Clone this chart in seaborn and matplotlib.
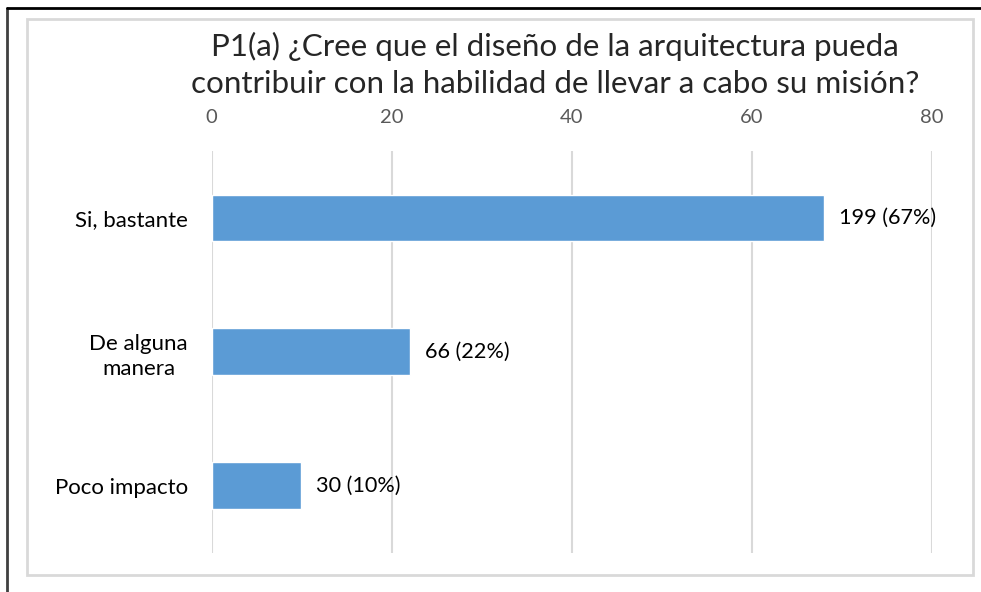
import pandas as pd
import seaborn as sns
import matplotlib.pyplot as plt
from matplotlib.lines import Line2D
from matplotlib.patches import Rectangle

categories = ['Si, bastante', 'De alguna\nmanera', 'Poco impacto']
values = [68.0, 22.0, 9.9]
labels = ['199 (67%)', '66 (22%)', '30 (10%)']
ticks = [0, 20, 40, 60, 80]

df = pd.DataFrame({'cat': categories, 'val': values})

sns.set_theme(style='white')
plt.rcParams['font.family'] = ['Lato', 'DejaVu Sans']

fig = plt.figure(figsize=(9.81, 5.92), dpi=100)
ax = fig.add_axes([211.5 / 981, 1 - 552.7 / 592, 720.2 / 981, 401.7 / 592])

sns.barplot(data=df, x='val', y='cat', orient='h', color='#5B9BD5', width=0.35,
            saturation=1, ax=ax)

ax.set_xlim(0, 80)
ax.set_xticks(ticks)
ax.xaxis.tick_top()
ax.tick_params(axis='x', length=0, pad=18, labelsize=14.5, labelcolor='#595959')
ax.tick_params(axis='y', length=0, pad=17, labelsize=16, labelcolor='black')
for t in ax.get_yticklabels():
    t.set_multialignment('center')
    t.set_linespacing(1.3)
ax.grid(axis='x', color='#D9D9D9', linewidth=1.5)
ax.set_axisbelow(True)
for s in ax.spines.values():
    s.set_visible(False)
ax.set_xlabel('')
ax.set_ylabel('')

ax.bar_label(ax.containers[0], labels=labels, padding=11, fontsize=15.6, color='black')

fig.text(555 / 981, 1 - 65 / 592,
         'P1(a) ¿Cree que el diseño de la arquitectura pueda\ncontribuir con la habilidad de llevar a cabo su misión?',
         ha='center', va='center', fontsize=22.6, color='#262626', linespacing=1.38)

# chart frame and outer border
fig.patches.append(Rectangle((27 / 981, 1 - 575 / 592), 946 / 981, 556 / 592,
                             transform=fig.transFigure, fill=False,
                             edgecolor='#D9D9D9', linewidth=2))
fig.lines.append(Line2D([7 / 981, 7 / 981], [0, 1 - 8 / 592], transform=fig.transFigure,
                        color='#404040', linewidth=2))
fig.lines.append(Line2D([7 / 981, 1], [1 - 8 / 592, 1 - 8 / 592], transform=fig.transFigure,
                        color='black', linewidth=2))

fig.savefig('out.png', dpi=100)
